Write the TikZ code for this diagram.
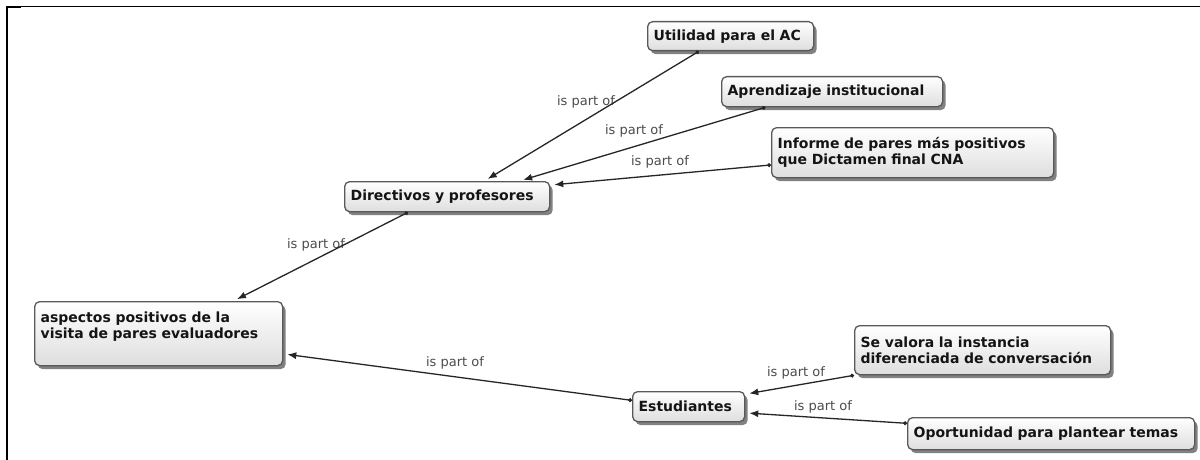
\documentclass[tikz,border=0pt]{standalone}
\usepackage{fontspec}
\setmainfont{DejaVu Sans}
\usetikzlibrary{calc,arrows.meta,shadows}
\begin{document}
\begin{tikzpicture}[x=1pt,y=-1pt,
  cbox/.style={draw=black!65, line width=1.3pt, rounded corners=5pt,
    top color=white, bottom color=black!13, anchor=north west, align=left,
    inner xsep=6pt, inner ysep=2pt, font=\fontsize{14}{16}\selectfont\bfseries,
    text=black!92,
    drop shadow={shadow xshift=3pt, shadow yshift=-3.5pt, fill=black!70, opacity=0.7}},
  lbl/.style={font=\fontsize{13}{15}\selectfont, text=black!70, inner sep=1pt},
  conn/.style={draw=black!85, line width=1.3pt,
    {Circle[length=3.8pt]}-{Latex[length=9pt,width=7pt]}, shorten >=4pt}
]
\useasboundingbox (0,0) rectangle (1200,460);
\fill[white] (0,0) rectangle (1200,460);
% frame
\draw[line width=2pt] (7,460) -- (7,6);
\draw[line width=1pt] (6,6.5) -- (1200,6.5);
\draw[line width=2.2pt] (6,7) -- (21,7);

% concept boxes
\node[cbox, text width=154pt, minimum height=29pt] (util) at (647,21) {Utilidad~para~el~AC};
\node[cbox, text width=209pt, minimum height=30pt] (aprend) at (721,76) {Aprendizaje~institucional};
\node[cbox, text width=270pt, minimum height=50pt] (inform) at (771,127) {Informe~de~pares~más~positivos\\que~Dictamen~final~CNA};
\node[cbox, text width=193pt, minimum height=30pt] (dir) at (344,181) {Directivos~y~profesores};
\node[cbox, text width=236pt, minimum height=64pt] (asp) at (34,301) {aspectos~positivos~de~la\\visita~de~pares~evaluadores\\\mbox{}};
\node[cbox, text width=100pt, minimum height=30pt] (estud) at (632,391) {Estudiantes};
\node[cbox, text width=244pt, minimum height=49pt] (sev) at (854,325) {Se~valora~la~instancia\\diferenciada~de~conversación};
\node[cbox, text width=275pt, minimum height=32pt] (oport) at (907,417) {Oportunidad~para~plantear~temas};

% link labels
\node[lbl] (l1) at (586,102) {is part of};
\node[lbl] (l2) at (634,131) {is part of};
\node[lbl] (l3) at (660,162) {is part of};
\node[lbl] (l4) at (316,245) {is part of};
\node[lbl] (l5) at (455,363) {is part of};
\node[lbl] (l6) at (796,373) {is part of};
\node[lbl] (l7) at (823,407) {is part of};

% connectors
\draw[conn] ($(util.south west)!0.31!(util.south east)$) -- ($(dir.north west)!0.68!(dir.north east)$);
\draw[conn] ($(aprend.south west)!0.2!(aprend.south east)$) -- ($(dir.north west)!0.85!(dir.north east)$);
\draw[conn] ($(inform.north west)!0.74!(inform.south west)$) -- ($(dir.north east)!0.13!(dir.south east)$);
\draw[conn] ($(dir.south west)!0.31!(dir.south east)$) -- ($(asp.north west)!0.8!(asp.north east)$);
\draw[conn] ($(estud.north west)!0.3!(estud.south west)$) -- ($(asp.north east)!0.81!(asp.south east)$);
\draw[conn] (sev.south west) -- ($(estud.north east)!0.1!(estud.south east)$);
\draw[conn] ($(oport.north west)!0.19!(oport.south west)$) -- ($(estud.north east)!0.7!(estud.south east)$);
\end{tikzpicture}
\end{document}
